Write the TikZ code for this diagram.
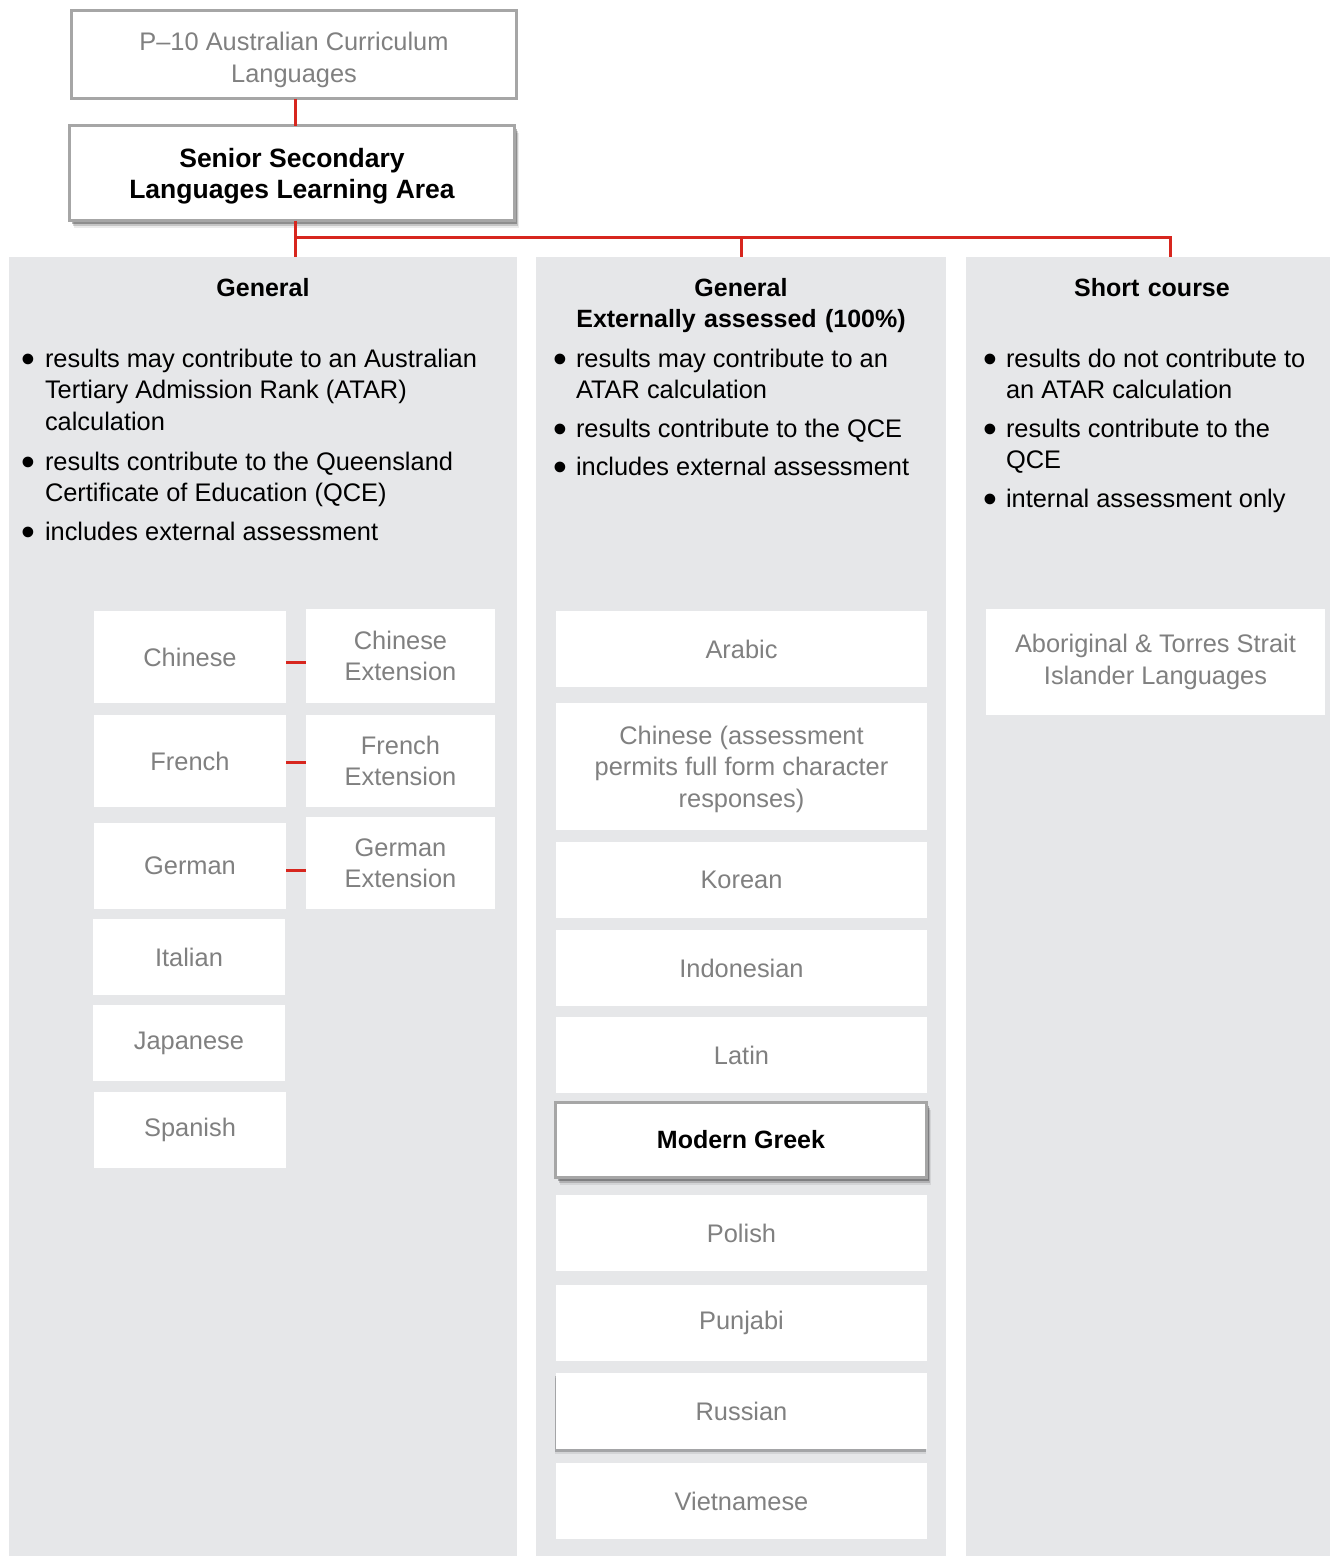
\documentclass[tikz,border=0pt]{standalone}
\usepackage{fontspec}
\setmainfont{Liberation Sans}
\usetikzlibrary{shadows,calc}
\definecolor{colbg}{HTML}{E6E7E9}
\definecolor{txtgray}{HTML}{808080}
\definecolor{bordgray}{HTML}{A6A6A6}
\definecolor{linered}{HTML}{D7261E}
\newcommand\bitem[2]{\makebox[21pt][l]{\hspace{-2pt}\raisebox{-5pt}{\scalebox{1.55}{•}}}\parbox[t]{#1}{\raggedright #2}}
\newcommand\upstrut[1]{\rule{0pt}{#1}}
\begin{document}
\begin{tikzpicture}[x=1pt,y=-1pt,
  every node/.style={font=\fontsize{25.4}{31.5}\selectfont, inner sep=0pt, outer sep=0pt},
  colbox/.style={fill=colbg, draw=none, minimum height=1299pt},
  langbox/.style={fill=white, draw=none, text=txtgray, align=center},
  hlbox/.style={fill=white, draw=bordgray, line width=3pt, align=center},
  softshadow/.style={drop shadow={shadow xshift=4pt, shadow yshift=-7pt, opacity=0.08, fill=black},
                     drop shadow={shadow xshift=3pt, shadow yshift=-5pt, opacity=0.16, fill=black},
                     drop shadow={shadow xshift=2pt, shadow yshift=-3pt, opacity=0.28, fill=black}},
  leftshadow/.style={drop shadow={shadow xshift=-1pt, shadow yshift=-5pt, opacity=0.08, fill=black},
                     drop shadow={shadow xshift=-1pt, shadow yshift=-3pt, opacity=0.22, fill=black}},
  headtxt/.style={font=\fontsize{25}{31.5}\selectfont\bfseries, anchor=base, text width=420pt, align=center},
  bulitem/.style={anchor=base west},
  conn/.style={draw=linered, line width=3pt}
]
\useasboundingbox (0,0) rectangle (1330,1556);

% columns
\node[colbox, minimum width=508pt] (c1) at (263,906.5) {};
\node[colbox, minimum width=410pt] (c2) at (741,906.5) {};
\node[colbox, minimum width=364pt] (c3) at (1148,906.5) {};

% top boxes
\node[hlbox, text=txtgray, minimum width=445pt, minimum height=88pt] (p10) at (294,54.5)
  {\upstrut{29pt}P–10 Australian Curriculum\\Languages};
\node[hlbox, softshadow, minimum width=445pt, minimum height=95pt, font=\fontsize{26.5}{31.5}\selectfont\bfseries] (sssl) at (292,173)
  {\upstrut{26pt}Senior Secondary\\Languages Learning Area};

% connectors of the tree
\coordinate (hb) at (295,237);
\coordinate (j3) at (1170,257);
\draw[conn] (p10.south -| 295,0) -- (sssl.north -| 295,0);
\draw[conn] (sssl.south -| 295,0) -- (c1.north -| 295,0);
\draw[conn] (hb) -| (j3);
\draw[conn] (hb -| c2.north) -- (c2.north);

% headings
\node[headtxt] (h1) at (263,296) {General};
\node[headtxt] (h2) at (741,296) {General\\Externally assessed (100\%)};
\node[headtxt] (h3) at (1152,296) {Short course};

% bullets column 1
\node[bulitem] (b11) at (24,367) {\bitem{465pt}{results may contribute to an Australian\\Tertiary Admission Rank (ATAR)\\calculation}};
\node[bulitem] (b12) at (24,470) {\bitem{465pt}{results contribute to the Queensland\\Certificate of Education (QCE)}};
\node[bulitem] (b13) at (24,540) {\bitem{465pt}{includes external assessment}};

% bullets column 2
\node[bulitem] (b21) at (555,367) {\bitem{365pt}{results may contribute to an\\ATAR calculation}};
\node[bulitem] (b22) at (555,437) {\bitem{365pt}{results contribute to the QCE}};
\node[bulitem] (b23) at (555,475.5) {\bitem{365pt}{includes external assessment}};

% bullets column 3
\node[bulitem] (b31) at (985,367) {\bitem{320pt}{results do not contribute to\\an ATAR calculation}};
\node[bulitem] (b32) at (985,437) {\bitem{320pt}{results contribute to the\\QCE}};
\node[bulitem] (b33) at (985,507.5) {\bitem{320pt}{internal assessment only}};

% column 1 language boxes
\node[langbox, minimum width=192pt, minimum height=92pt] (chn) at (190,657) {Chinese};
\node[langbox, minimum width=189pt, minimum height=94pt] (chnx) at (400.5,656) {Chinese\\Extension};
\node[langbox, minimum width=192pt, minimum height=92pt] (fre) at (190,761) {French};
\node[langbox, minimum width=189pt, minimum height=92pt] (frex) at (400.5,761) {French\\Extension};
\node[langbox, minimum width=192pt, minimum height=86pt] (ger) at (190,866) {German};
\node[langbox, minimum width=189pt, minimum height=92pt] (gerx) at (400.5,863) {German\\Extension};
\node[langbox, minimum width=192pt, minimum height=76pt] (ita) at (189,957) {Italian};
\node[langbox, minimum width=192pt, minimum height=76pt] (jap) at (189,1043) {Japanese};
\node[langbox, minimum width=192pt, minimum height=76pt] (spa) at (190,1130) {Spanish};

\draw[conn] ([yshift=-5pt]chn.east) -- ([yshift=-5pt]chn.east -| chnx.west);
\draw[conn] ([yshift=-1pt]fre.east) -- ([yshift=-1pt]fre.east -| frex.west);
\draw[conn] ([yshift=-4pt]ger.east) -- ([yshift=-4pt]ger.east -| gerx.west);

% column 2 language boxes
\node[langbox, minimum width=371pt, minimum height=76pt] (ara) at (741.5,649) {Arabic};
\node[langbox, minimum width=371pt, minimum height=127pt] (chi2) at (741.5,766.5) {\upstrut{24pt}Chinese (assessment\\permits full form character\\responses)};
\node[langbox, minimum width=371pt, minimum height=76pt] (kor) at (741.5,880) {Korean};
\node[langbox, minimum width=371pt, minimum height=76pt] (ind) at (741.5,968) {Indonesian};
\node[langbox, minimum width=371pt, minimum height=76pt] (lat) at (741.5,1055) {Latin};
\node[hlbox, softshadow, minimum width=371pt, minimum height=75pt, font=\fontsize{25}{31.5}\selectfont\bfseries] (mgr) at (741,1140) {Modern Greek};
\node[langbox, minimum width=371pt, minimum height=76pt] (pol) at (741.5,1233) {Polish};
\node[langbox, minimum width=371pt, minimum height=76pt] (pun) at (741.5,1323) {Punjabi};
\node[langbox, leftshadow, minimum width=371pt, minimum height=76pt] (rus) at (741.5,1411) {Russian};
\node[langbox, minimum width=371pt, minimum height=76pt] (vie) at (741.5,1501) {Vietnamese};

% column 3 language box
\node[langbox, minimum width=339pt, minimum height=106pt] (abo) at (1155.5,662) {Aboriginal \& Torres Strait\\Islander Languages};
\end{tikzpicture}
\end{document}
